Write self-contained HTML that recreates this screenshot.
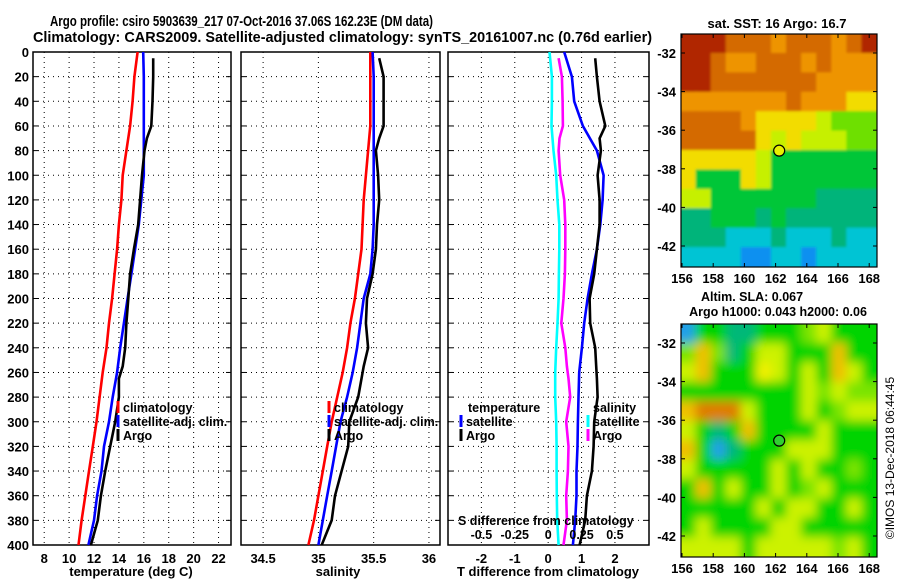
<!DOCTYPE html>
<html><head><meta charset="utf-8"><style>
html,body{margin:0;padding:0;background:#fff;}
svg{display:block;font-family:"Liberation Sans",Arial,sans-serif;font-weight:bold;}
</style></head><body>
<svg id="root" width="900" height="580" viewBox="0 0 900 580" xmlns="http://www.w3.org/2000/svg">
<text x="50" y="26" font-size="15" textLength="383" lengthAdjust="spacingAndGlyphs">Argo profile: csiro 5903639_217 07-Oct-2016 37.06S 162.23E (DM data)</text>
<text x="33" y="42" font-size="15" textLength="619" lengthAdjust="spacingAndGlyphs">Climatology: CARS2009. Satellite-adjusted climatology: synTS_20161007.nc (0.76d earlier)</text>
<g id="plots"></g>
</svg>
<script>
// depth levels (m)
const depths = [0,20,40,60,80,100,120,140,160,180,200,220,240,260,280,300,320,340,360,380,400];
// temperature (deg C)
const tempClim = [15.5,15.24,15.1,14.9,14.6,14.3,14.2,14.0,13.85,13.65,13.45,13.2,13.0,12.7,12.45,12.2,11.9,11.6,11.3,11.0,10.75];
const tempSat  = [15.95,16.0,16.0,16.0,16.0,16.0,15.8,15.6,15.3,15.0,14.7,14.4,14.1,13.85,13.5,13.2,12.8,12.6,12.25,12.0,11.55];
const argoDepths = [5,20,40,60,70,80,100,120,140,160,180,200,220,240,255,265,280,300,320,340,360,380,400];
const tempArgo = [16.75,16.75,16.7,16.6,16.25,16.05,15.85,15.7,15.55,15.2,14.9,14.75,14.6,14.5,14.3,14.0,14.0,13.7,13.3,12.9,12.55,12.3,11.75];
// salinity
const salClim = [35.47,35.47,35.47,35.47,35.45,35.43,35.41,35.40,35.39,35.36,35.33,35.29,35.26,35.22,35.17,35.12,35.08,35.04,35.0,34.96,34.91];
const salSat  = [35.49,35.5,35.5,35.5,35.5,35.5,35.5,35.5,35.49,35.47,35.41,35.38,35.35,35.31,35.26,35.2,35.16,35.12,35.08,35.04,35.0];
const salArgo = [35.55,35.59,35.59,35.59,35.55,35.52,35.54,35.55,35.53,35.52,35.49,35.44,35.43,35.45,35.41,35.39,35.36,35.28,35.27,35.21,35.15,35.12,35.03];
// differences from climatology
const tDiffSat  = [0.48,0.71,0.78,1.04,1.46,1.66,1.63,1.56,1.46,1.31,1.18,1.08,1.01,0.93,0.91,0.89,0.88,0.85,0.85,0.81,0.74];
const tDiffArgo = [1.41,1.46,1.54,1.71,1.54,1.58,1.48,1.54,1.54,1.46,1.38,1.24,1.26,1.41,1.44,1.46,1.48,1.38,1.36,1.31,1.16,1.11,0.94];
const sDiffSat  = [0.01,0.028,0.028,0.025,0.04,0.06,0.07,0.083,0.083,0.08,0.078,0.07,0.06,0.053,0.053,0.06,0.063,0.063,0.065,0.068,0.078];
const sDiffArgo = [0.078,0.103,0.108,0.11,0.085,0.078,0.09,0.12,0.128,0.128,0.125,0.115,0.098,0.128,0.14,0.152,0.165,0.135,0.152,0.148,0.135,0.14,0.115];
// axis ticks
const depthTicks = [0,20,40,60,80,100,120,140,160,180,200,220,240,260,280,300,320,340,360,380,400];
const tempTicks = [8,10,12,14,16,18,20,22];
const salTicks = [34.5,35,35.5,36];
const tdTicks = [-2,-1,0,1,2];
const sdTicks = [-0.5,-0.25,0,0.25,0.5];
const sdTickLabels = ['-0.5','-0.25','0','0.25','0.5'];
// maps
const lonTicks = [156,158,160,162,164,166,168];
const latTicks = [-32,-34,-36,-38,-40,-42];
const argoLon = 162.23, argoLat = -37.06;
const sstGrid = [
"RRROOOoOOOoOR","RROooOOOoOooo","RROOOOOOOoooo","oooooooOoooYY",
"OOOOoYYYYyggg","OOOOOYyYyyygg","YYYYYyGGGGGGG","YGGGYyGGGGGGG",
"yyGGGGGGGTTTT","TTGGGTGTTTTTT","TTTCCCTCCCTCC","CCCCBBCCBCCCC"];
const slaGrid = [
"BGGTTGGGgyGGG","gogTGyyGGGoGG","yoGGGYyGyGoyG","GGGGGGGGygygg",
"oOOOyGGGyGgyy","yGTGoGGGGyGGG","oGBTGGGyyyGGG","yGGGGGyGyGGgG",
"GoGyGGyGgyGGG","GGGGGyGyyGGyG","GyGGGGyyGGGGG","yyyyGyyyyygyG"];
const sstPal = {R:'#b02800',O:'#d46a00',o:'#ee9400',Y:'#f2dc00',y:'#c6f000',g:'#6ee000',G:'#00c638',T:'#00b47a',C:'#00c4d4',B:'#1090f0'};
const slaPal = {G:'#00d400',g:'#7ae400',y:'#ccf200',Y:'#f0f000',o:'#f0c000',O:'#e07c00',T:'#00b878',C:'#30c0b0',B:'#20a0e8'};

const NS='http://www.w3.org/2000/svg';
const root=document.getElementById('plots');
function el(tag,attrs,parent){const e=document.createElementNS(NS,tag);for(const k in attrs)e.setAttribute(k,attrs[k]);(parent||root).appendChild(e);return e;}
function txt(x,y,s,size,anchor,parent){const t=el('text',{x:x,y:y,'font-size':size,'text-anchor':anchor||'start'},parent);t.textContent=s;return t;}

const Y0=52,Y1=545;
function yD(d){return Y0+(d/400)*(Y1-Y0);}

function panel(name,x0,x1,v0,v1,xticks,xlabels,showY){
  const g=el('g',{});
  
  
  const sx=v=>x0+(v-v0)/(v1-v0)*(x1-x0);
  depthTicks.forEach(d=>{if(d>0&&d<400){const l=el('line',{x1:x0,x2:x1,y1:yD(d),y2:yD(d),stroke:'#000','stroke-width':1,'stroke-dasharray':'1 4'},g);}
    const t1=el('line',{x1:x0,x2:x0+5,y1:yD(d),y2:yD(d),stroke:'#000'},g);
    const t2=el('line',{x1:x1-5,x2:x1,y1:yD(d),y2:yD(d),stroke:'#000'},g);
    if(showY){const t=txt(x0-4,yD(d)+5,String(d),13,'end',g);}
  });
  xticks.forEach((v,i)=>{const x=sx(v);
    const l=el('line',{x1:x,x2:x,y1:Y0,y2:Y1,stroke:'#000','stroke-width':1,'stroke-dasharray':'1 4'},g);
    const t=txt(x,Y1+18,xlabels[i],13,'middle',g);
  });
  const r=el('rect',{x:x0,y:Y0,width:x1-x0,height:Y1-Y0,fill:'none',stroke:'#000','stroke-width':1.5},g);
  
  return {g,sx};
}
function line(p,vals,ds,color,name){
  const pts=vals.map((v,i)=>p.sx(v).toFixed(1)+','+yD(ds[i]).toFixed(1)).join(' ');
  const l=el('polyline',{points:pts,fill:'none',stroke:color,'stroke-width':2.6,'stroke-linejoin':'miter'},p.g);
  
  
}
function legendItem(g,x,y,color,label,name){
  const m=el('line',{x1:x,x2:x,y1:y-11,y2:y+1,stroke:color,'stroke-width':3},g);
  
  const t=txt(x+5,y,label,12.5,'start',g);
  
}

const p1=panel('temperature-panel',33,231,7.1,23.0,tempTicks,tempTicks.map(String),true);
line(p1,tempClim,depths,'#ff0000','temp-climatology-line');
line(p1,tempSat,depths,'#0000ff','temp-satellite-line');
line(p1,tempArgo,argoDepths,'#000000','temp-argo-line');
legendItem(p1.g,118,412,'#ff0000','climatology','legend-climatology');
legendItem(p1.g,118,426,'#0000ff','satellite-adj. clim.','legend-satellite');
legendItem(p1.g,118,440,'#000000','Argo','legend-argo');
{const t=txt(131,576,'temperature (deg C)',13,'middle',p1.g);}

const p2=panel('salinity-panel',241,440,34.3,36.1,salTicks,['34.5','35','35.5','36'],false);
line(p2,salClim,depths,'#ff0000','sal-climatology-line');
line(p2,salSat,depths,'#0000ff','sal-satellite-line');
line(p2,salArgo,argoDepths,'#000000','sal-argo-line');
legendItem(p2.g,329,412,'#ff0000','climatology','legend-climatology');
legendItem(p2.g,329,426,'#0000ff','satellite-adj. clim.','legend-satellite');
legendItem(p2.g,329,440,'#000000','Argo','legend-argo');
{const t=txt(338,576,'salinity',13,'middle',p2.g);}

const p3=panel('difference-panel',448,649,-3.0,3.02,tdTicks,tdTicks.map(String),false);
const sdToT=v=>v*4;
line(p3,sDiffSat.map(sdToT),depths,'#00ffff','sal-diff-satellite-line');
line(p3,sDiffArgo.map(sdToT),argoDepths,'#ff00ff','sal-diff-argo-line');
line(p3,tDiffSat,depths,'#0000ff','temp-diff-satellite-line');
line(p3,tDiffArgo,argoDepths,'#000000','temp-diff-argo-line');
{const t=txt(468,412,'temperature',12.5,'start',p3.g);}
{const t=txt(593,412,'salinity',12.5,'start',p3.g);}
legendItem(p3.g,461,426,'#0000ff','satellite','legend-temp-satellite');
legendItem(p3.g,461,440,'#000000','Argo','legend-temp-argo');
legendItem(p3.g,588,426,'#00ffff','satellite','legend-sal-satellite');
legendItem(p3.g,588,440,'#ff00ff','Argo','legend-sal-argo');
{const t=txt(458,525,'S difference from climatology',12.5,'start',p3.g);}
sdTicks.forEach((v,i)=>{const t=txt(p3.sx(sdToT(v)),539,sdTickLabels[i],12.5,'middle',p3.g);});
{const t=txt(548,576,'T difference from climatology',13,'middle',p3.g);}

function map(name,top,grid,pal,blur,circleFill,baseFill){
  const x0=681,x1=877,y0=top,y1=top+233;
  const sx=lon=>682+(lon-156)*15.6;
  const sy=lat=>(top+19)+(-32-lat)*19.3;
  const g=el('g',{});
  
  
  const clip='clip-'+name;
  const cp=el('clipPath',{id:clip},g);el('rect',{x:x0,y:y0,width:x1-x0,height:y1-y0},cp);
  const inner=el('g',{'clip-path':'url(#'+clip+')'},g);
  el('rect',{x:x0,y:y0,width:x1-x0,height:y1-y0,fill:baseFill},inner);
  if(blur){const f=el('filter',{id:'blur-'+name,x:'-10%',y:'-10%',width:'120%',height:'120%'},g);el('feGaussianBlur',{stdDeviation:blur,edgeMode:'duplicate'},f);}
  const cells=el('g',blur?{filter:'url(#blur-'+name+')'}:{},inner);
  const cw=(x1-x0)/13,ch=(y1-y0)/12;
  grid.forEach((row,r)=>{for(let c=0;c<row.length;c++){
    let x=x0+c*cw-0.5,y=y0+r*ch-0.5,w=cw+1,h=ch+1;
    if(c===0){x-=12;w+=12;} if(c===row.length-1){w+=12;}
    if(r===0){y-=12;h+=12;} if(r===grid.length-1){h+=12;}
    const rc=el('rect',{x:x,y:y,width:w,height:h,fill:pal[row[c]]},cells);
    
    
  }});
  const fr=el('rect',{x:x0,y:y0,width:x1-x0,height:y1-y0,fill:'none',stroke:'#000','stroke-width':1.2},g);
  
  lonTicks.forEach(l=>{const x=sx(l);
    el('line',{x1:x,x2:x,y1:y1,y2:y1-4,stroke:'#000'},g);el('line',{x1:x,x2:x,y1:y0,y2:y0+4,stroke:'#000'},g);
    const t=txt(x,y1+16,String(l),13,'middle',g);});
  latTicks.forEach(l=>{const y=sy(l);
    el('line',{x1:x0,x2:x0+4,y1:y,y2:y,stroke:'#000'},g);el('line',{x1:x1,x2:x1-4,y1:y,y2:y,stroke:'#000'},g);
    const t=txt(x0-5,y+5,String(l),13,'end',g);});
  const c=el('circle',{cx:sx(argoLon),cy:sy(argoLat),r:5.5,fill:circleFill,stroke:'#000','stroke-width':1.2},g);
  
  return g;
}
const m1=map('sst-map',34,sstGrid,sstPal,1.2,'#e8f000','#00c638');
{const t=txt(777,28,'sat. SST: 16 Argo: 16.7',13,'middle',m1);}
const m2=map('sla-map',324,slaGrid,slaPal,5,'#30d030','#00d400');
{const t=txt(752,301,'Altim. SLA: 0.067',12.5,'middle',m2);}
{const t=txt(778,316,'Argo h1000: 0.043 h2000: 0.06',12.5,'middle',m2);}
{const t=txt(0,0,'©IMOS 13-Dec-2018 06:44:45',12,'middle');t.setAttribute('transform','translate(894,458) rotate(-90)');t.setAttribute('font-weight','normal');}
</script>
</body></html>
